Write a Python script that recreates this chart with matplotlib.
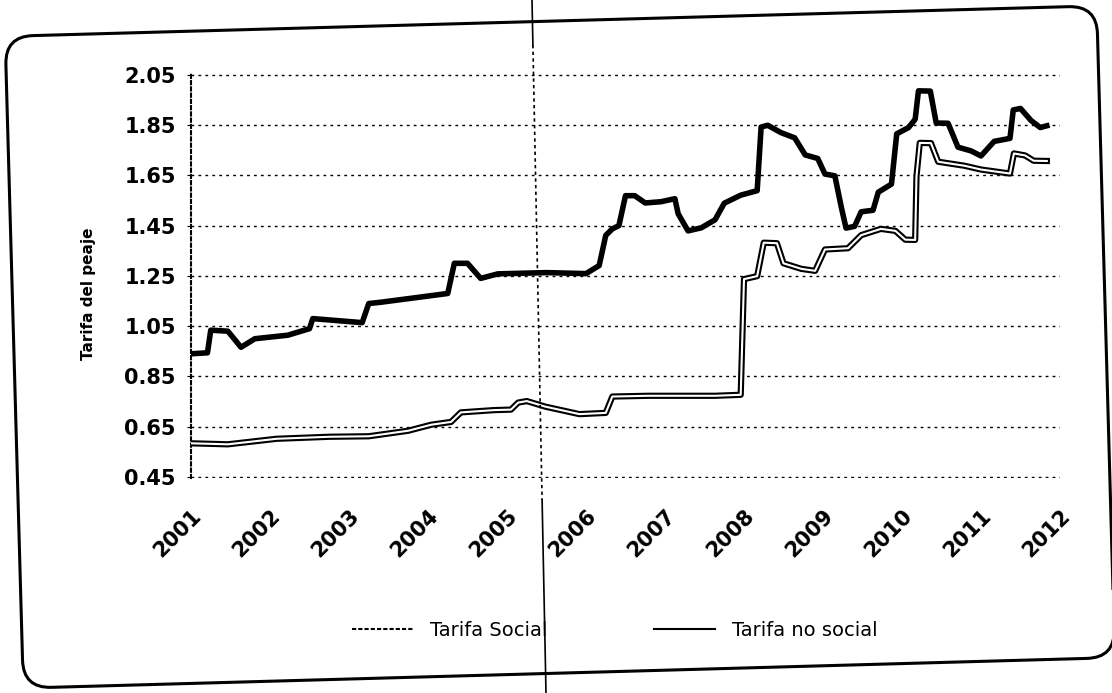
import numpy as np
import matplotlib.pyplot as plt
import matplotlib.patheffects as pe
from matplotlib.patches import FancyBboxPatch
from matplotlib.transforms import Affine2D
from matplotlib.lines import Line2D

W, H = 1112, 693

# months counted from Jan 2001
social_months = [0, 5.6, 13, 21, 27, 33, 36.5, 39.5, 41, 46,
                 48.6, 49.7, 51, 53.8, 59, 63, 64, 69.4, 79.6, 83.5,
                 84, 86, 87, 89, 90, 92.7, 94.8, 96.3, 99.8, 101.8,
                 104.8, 107, 108.5, 110, 110.2, 110.7, 112.4, 113.5, 117.5, 120,
                 124.4, 125, 126.7, 128, 130]
social_values = [0.584, 0.58, 0.602, 0.61, 0.612, 0.634, 0.658, 0.669, 0.707, 0.716,
                 0.718, 0.746, 0.752, 0.73, 0.70, 0.705, 0.77, 0.773, 0.773, 0.777,
                 1.237, 1.249, 1.382, 1.38, 1.30, 1.278, 1.27, 1.355, 1.36, 1.412,
                 1.437, 1.429, 1.394, 1.393, 1.646, 1.779, 1.778, 1.704, 1.688, 1.673,
                 1.657, 1.737, 1.729, 1.708, 1.707]

no_social_months = [0, 2.5, 3, 5.6, 7.6, 9.7, 14.7, 18, 18.5, 26,
                    27, 28.8, 39, 40, 42, 44, 46.6, 54, 60, 62,
                    63, 64, 65, 66, 67.4, 69, 71.4, 73.5, 74, 75.5,
                    77.5, 79.6, 81, 83.5, 86, 86.6, 87.6, 89.6, 91.7, 93.3,
                    95.2, 96.3, 97.8, 98.8, 99.5, 100.8, 101.8, 103.6, 104.4, 106.4,
                    107.2, 109, 110, 110.5, 112.3, 113.2, 115, 116.5, 118.5, 120,
                    122, 124.4, 124.9, 126, 127.6, 129, 130]
no_social_values = [0.94, 0.944, 1.034, 1.03, 0.966, 1.00, 1.014, 1.04, 1.08, 1.064,
                    1.14, 1.145, 1.18, 1.30, 1.30, 1.24, 1.258, 1.263, 1.259, 1.291,
                    1.411, 1.437, 1.45, 1.569, 1.569, 1.54, 1.545, 1.557, 1.497, 1.429,
                    1.441, 1.473, 1.539, 1.571, 1.589, 1.842, 1.849, 1.82, 1.799, 1.731,
                    1.717, 1.655, 1.648, 1.521, 1.44, 1.447, 1.505, 1.511, 1.583, 1.615,
                    1.815, 1.84, 1.873, 1.986, 1.985, 1.858, 1.857, 1.762, 1.747, 1.727,
                    1.785, 1.797, 1.91, 1.916, 1.868, 1.84, 1.847]

years = list(range(2001, 2013))
y_ticks = [0.45, 0.65, 0.85, 1.05, 1.25, 1.45, 1.65, 1.85, 2.05]
series_names = ["Tarifa Social", "Tarifa no social"]
y_title = "Tarifa del peaje"


def to_year(months):
    return 2001 + np.array(months) / 12.0


def main():
    fig = plt.figure(figsize=(W / 100, H / 100), dpi=100)
    ax = fig.add_axes([191 / W, 1 - 478 / H, 869 / W, 404 / H])

    hollow = [pe.Stroke(linewidth=4.5, foreground='black'), pe.Normal()]
    ax.plot(to_year(social_months), social_values, color='white', lw=1.5,
            path_effects=hollow, zorder=3)
    ax.plot(to_year(no_social_months), no_social_values, color='black', lw=4,
            zorder=4)

    ax.set_xlim(2001, 2012)
    ax.set_ylim(0.446, 2.053)
    ax.set_xticks(years)
    ax.set_xticklabels([str(y) for y in years], rotation=45, ha='right',
                       rotation_mode='anchor', fontsize=15, fontweight='bold')
    ax.set_yticks(y_ticks)
    ax.set_yticklabels(['%.2f' % v for v in y_ticks], fontsize=15, fontweight='bold')
    ax.tick_params(axis='x', length=0, pad=20)
    ax.tick_params(axis='y', length=3, pad=8)

    ax.yaxis.grid(True, linestyle=(0, (2, 3)), color='black', lw=1)
    ax.set_axisbelow(True)
    for side in ['top', 'right', 'bottom']:
        ax.spines[side].set_visible(False)
    ax.spines['left'].set_linestyle((0, (1.5, 1.5)))
    ax.spines['left'].set_linewidth(1.5)

    fig.text(88 / W, 1 - 294 / H, y_title, rotation=90, ha='center', va='center',
             fontsize=11, fontweight='bold')

    handles = [Line2D([], [], color='black', lw=1.5, linestyle=(0, (2, 1))),
               Line2D([], [], color='black', lw=1.5)]
    fig.legend(handles, series_names, loc='center', ncol=2, frameon=False,
               bbox_to_anchor=(615 / W, 1 - 630 / H), fontsize=14,
               handlelength=3.1, handletextpad=0.9, columnspacing=5.5)

    # scan artefact: a vertical fold line across the page
    def fold_x(py):
        return 532 + py * 14 / H
    for y0, y1, style in [(0, 45, '-'), (45, 500, (0, (2, 2))), (500, H, '-')]:
        fig.add_artist(Line2D([fold_x(y0) / W, fold_x(y1) / W], [1 - y0 / H, 1 - y1 / H],
                              transform=fig.transFigure, color='black', lw=1.2,
                              linestyle=style))

    # rounded, slightly rotated frame around the whole chart
    cx, cy, bw, bh = 560, H - 347, 1092, 652
    frame = FancyBboxPatch((cx - bw / 2, cy - bh / 2), bw, bh,
                           boxstyle='round,pad=0,rounding_size=28',
                           transform=Affine2D().rotate_deg_around(cx, cy, 1.6).scale(1 / W, 1 / H) + fig.transFigure,
                           fill=False, lw=2.2, ec='black')
    fig.add_artist(frame)

    fig.savefig('out.png', dpi=100)


if __name__ == '__main__':
    main()
